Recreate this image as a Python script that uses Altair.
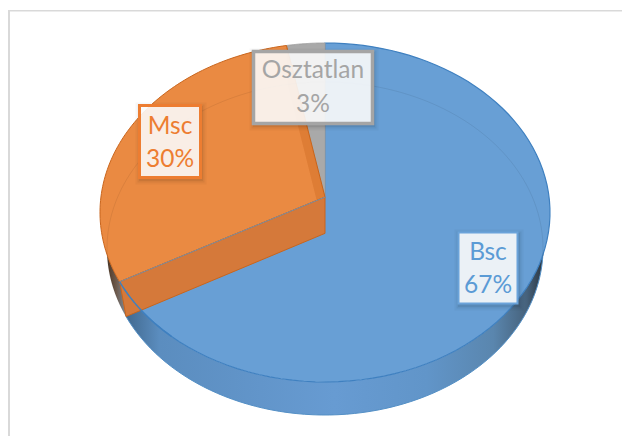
import math
import altair as alt

labels = ["Bsc", "Msc", "Osztatlan"]
shares = [67, 30, 3]
fills = ["#689fd5", "#ea8a42", "#a9a9a9"]
edges = ["#3f80c0", "#c9651c", "#a0a0a0"]
box_colors = ["#6ba3da", "#ed7d31", "#a5a5a5"]
box_widths = [2, 3, 3.5]
text_colors = ["#5b9bd5", "#ed7d31", "#a5a5a5"]

W, H = 614, 428
CX = 325
TOP = dict(cy=212.5, rx=225, ry=169.5)
BOT = dict(cy=248.5, rx=218, ry=166.5)
D = 0.091

# label boxes: left, right, top, bottom, line-1 y, line-2 y
BOXES = {
    "Bsc": (458.5, 517.5, 232.5, 303.5, 253, 286),
    "Msc": (139.5, 200.5, 105.5, 177.5, 127, 160),
    "Osztatlan": (253.5, 372.5, 51.5, 123.5, 71, 105),
}


def project(frac, e):
    """Clockwise pie fraction from 12 o'clock -> tilted ellipse point."""
    t = 2 * math.pi * frac
    u, v = math.sin(t), math.cos(t)
    den = 1 + D * v
    vp = (v + D) / den
    up = u * math.sqrt(1 - D * D) / den
    return CX + e["rx"] * up, e["cy"] - e["ry"] * vp


def apex(e):
    return CX, e["cy"] - e["ry"] * D


def ell_low(x, e):
    q = 1 - ((x - CX) / e["rx"]) ** 2
    return e["cy"] + e["ry"] * math.sqrt(max(q, 0))


def wedge(f0, f1, e, n=90):
    pts = [apex(e)]
    pts += [project(f0 + (f1 - f0) * i / n, e) for i in range(n + 1)]
    pts.append(apex(e))
    return pts


def rows(pts):
    return alt.Data(values=[{"x": p[0], "y": p[1], "i": i} for i, p in enumerate(pts)])


X = alt.X("x:Q", scale=alt.Scale(domain=[8, 8 + W], nice=False, zero=False), axis=None)
Y = alt.Y("y:Q", scale=alt.Scale(domain=[8 + H, 8], nice=False, zero=False), axis=None)
ORDER = alt.Order("i:Q")


def poly(pts, **mark):
    return alt.Chart(rows(pts)).mark_line(**mark).encode(x=X, y=Y, order=ORDER)


def rect(l, r, t, b, **mark):
    d = alt.Data(values=[{"x": l, "x2": r, "y": t, "y2": b}])
    return alt.Chart(d).mark_rect(**mark).encode(x=X, x2="x2:Q", y=Y, y2="y2:Q")


def rim(x0, x1, gradient):
    n = 200
    vals = []
    for i in range(n + 1):
        x = x0 + (x1 - x0) * i / n
        yt = ell_low(x, TOP)
        yb = max(ell_low(x, BOT), yt)
        vals.append({"x": x, "y": yt, "y2": yb})
    return alt.Chart(alt.Data(values=vals)).mark_area(color=gradient, interpolate="linear").encode(x=X, y=Y, y2="y2:Q")


total = sum(shares)
cuts = [0]
for s in shares:
    cuts.append(cuts[-1] + s / total)

layers = []

# frame: only its left and top edges fall inside the picture
layers.append(rect(8, 10, 10, 8 + H, fill="#d9d9d9"))
layers.append(rect(8, 8 + W, 10, 11.5, fill="#d9d9d9"))

# rims
bx, by = project(cuts[1], BOT)
tx, ty = project(cuts[1], TOP)
layers.append(rim(bx, 543.5, alt.Gradient(
    gradient="linear", x1=0, y1=0, x2=1, y2=0,
    stops=[
        alt.GradientStop(offset=0, color="#41698f"),
        alt.GradientStop(offset=0.08, color="#5b8dbf"),
        alt.GradientStop(offset=0.5, color="#679bd2"),
        alt.GradientStop(offset=0.72, color="#6195c9"),
        alt.GradientStop(offset=0.88, color="#5a86ae"),
        alt.GradientStop(offset=0.96, color="#46627c"),
        alt.GradientStop(offset=1, color="#2b3540"),
    ])))
layers.append(rim(106.5, bx, alt.Gradient(
    gradient="linear", x1=0, y1=0, x2=1, y2=0,
    stops=[
        alt.GradientStop(offset=0, color="#4a3422"),
        alt.GradientStop(offset=0.5, color="#6d5a4c"),
        alt.GradientStop(offset=1, color="#7d8a98"),
    ])))

# rim outline
layers.append(poly([project(cuts[1] - cuts[1] * i / 120, BOT) for i in range(90)],
                   stroke="#5b9bd5", strokeWidth=1))

# top faces
layers.append(poly(wedge(cuts[0], cuts[1], TOP), fill=fills[0], stroke=edges[0], strokeWidth=1.2))
layers.append(poly(wedge(cuts[2], cuts[3], TOP), fill=fills[2], stroke=edges[2], strokeWidth=1))
layers.append(poly(wedge(cuts[1], cuts[2], TOP), fill=fills[1], stroke=edges[1], strokeWidth=1))

# walls of the orange slice seen through the top
ax, ay = apex(TOP)
bax, bay = apex(BOT)
rx_t, ry_t = project(cuts[2], TOP)
rx_b, ry_b = project(cuts[2], BOT)
layers.append(poly([(ax, ay), (bax, bay), (rx_b, ry_b), (rx_t, ry_t), (ax, ay)],
                   fill="#c9651c", fillOpacity=0.35, strokeWidth=0))
layers.append(poly([(ax, ay), (bax, bay), (bx, by), (tx, ty), (ax, ay)],
                   fill="#d5793a", stroke="#c9651c", strokeWidth=1))

# edge of the blue slice showing through the wall
layers.append(poly([(ax, ay), (tx, ty)], stroke="#7d8fa3", strokeWidth=1))
layers.append(poly([project(cuts[1] - 0.06 * i / 30, TOP) for i in range(31)],
                   stroke=edges[0], strokeWidth=1.5))

# ghost of the lower rim through the top
ghost = [project(i / 200, BOT) for i in range(201)]
layers.append(poly(ghost, stroke="#000000", strokeOpacity=0.07, strokeWidth=1))

# label boxes
for name, share, col, sw, tcol in zip(labels, shares, box_colors, box_widths, text_colors):
    l, r, t, b, y1, y2 = BOXES[name]
    for grow, op in [(5, 0.03), (3, 0.05), (1.5, 0.06)]:
        layers.append(rect(l - grow + 1, r + grow + 1, t - grow + 2, b + grow + 2,
                           fill="#000000", fillOpacity=op))
    layers.append(rect(l, r, t, b, fill="white", fillOpacity=0.88, stroke=col, strokeWidth=sw))
    lines = alt.Data(values=[
        {"x": (l + r) / 2, "y": y1, "t": name},
        {"x": (l + r) / 2, "y": y2, "t": f"{share}%"},
    ])
    layers.append(alt.Chart(lines).mark_text(
        font="Lato", fontSize=24.5, color=tcol, align="center", baseline="middle"
    ).encode(x=X, y=Y, text="t:N"))

chart = alt.layer(*layers).properties(
    width=W, height=H, padding=0, background="white",
    autosize=alt.AutoSizeParams(type="none"),
).configure_view(stroke=None)

chart.save("out.html", embed_options={"renderer": "svg", "actions": False})
